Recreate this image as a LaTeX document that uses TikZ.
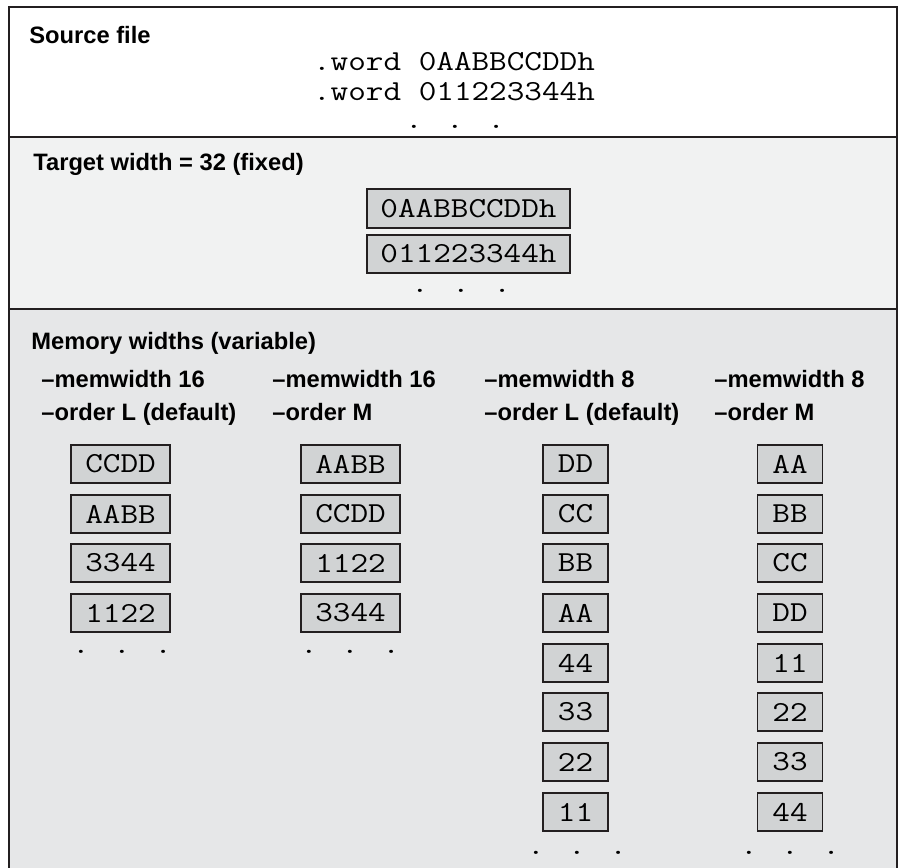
\documentclass[tikz,border=0pt]{standalone}
\usepackage{fontspec}
\setmainfont{Liberation Sans}
\newfontfamily\codefont{Latin Modern Mono}[FakeStretch=1.18]
\definecolor{ink}{HTML}{231F20}
\definecolor{paneltwo}{HTML}{F1F2F2}
\definecolor{panelthree}{HTML}{E6E7E8}
\definecolor{cellgray}{HTML}{D1D3D4}
\tikzset{
  paneltitle/.style={anchor=base west,inner sep=0,font=\bfseries\fontsize{13.5}{16}\selectfont},
  srcline/.style={anchor=base,inner sep=0,font=\codefont\fontsize{16.5}{19}\selectfont},
  ellip/.style={anchor=base,inner sep=0,font=\codefont\fontsize{16.5}{19}\selectfont},
  cell/.style={draw=ink,fill=cellgray,line width=1.1pt,inner sep=0,minimum height=0.77cm,font=\codefont\fontsize{16.5}{19}\selectfont},
  cellword/.style={cell,minimum width=4.06cm},
  cellhalf/.style={cell,minimum width=1.98cm},
  cellbyte/.style={cell,minimum width=1.3cm}
}
\begin{document}
\begin{tikzpicture}[x=0.02cm,y=-0.02cm]
    \useasboundingbox (0,0) rectangle (902,867);
    % \draw[thin,red!30] (0,0) grid[step=50] (902,867);
    \fill[paneltwo] (9,137) rectangle (897,309);
    \fill[panelthree] (9,309) rectangle (897,880);
    \draw[ink,line width=1.6pt] (9,880) -- (9,7) -- (897,7) -- (897,880);
    \draw[ink,line width=1.6pt] (9,137) -- (897,137) (9,309) -- (897,309);
    % source file
    \node[paneltitle] (srctitle) at (29,43) {Source file};
    \node[srcline] (src1) at (454,70) {.word 0AABBCCDDh};
    \node[srcline] (src2) at (454,100) {.word 011223344h};
    \node[ellip] (srcdots) at (455,128.5) {. . .};
    % target width
    \node[paneltitle] (twtitle) at (33,170) {Target width = 32 (fixed)};
    \node[cellword] (tw1) at (468.5,208.5) {0AABBCCDDh};
    \node[cellword] (tw2) at (468.5,254) {011223344h};
    \node[ellip] (twdots) at (461,292.5) {. . .};
    % memory widths
    \node[paneltitle] (mwtitle) at (31,349.5) {Memory widths (variable)};
    \node[paneltitle] (mwA) at (41,387.7) {–memwidth 16};
    \node[paneltitle] (orA) at (41,420) {–order L (default)};
    \node[paneltitle] (mwB) at (272,387.7) {–memwidth 16};
    \node[paneltitle] (orB) at (272,420) {–order M};
    \node[paneltitle] (mwC) at (484,387.7) {–memwidth 8};
    \node[paneltitle] (orC) at (484,420) {–order L (default)};
    \node[paneltitle] (mwD) at (714,387.7) {–memwidth 8};
    \node[paneltitle] (orD) at (714,420) {–order M};
    % 16 bit, order L
    \node[cellhalf] (a1) at (120.5,464) {CCDD};
    \node[cellhalf] (a2) at (120.5,514) {AABB};
    \node[cellhalf] (a3) at (120.5,563) {3344};
    \node[cellhalf] (a4) at (120.5,613) {1122};
    \node[ellip] (adots) at (122,653.5) {. . .};
    % 16 bit, order M
    \node[cellhalf] (b1) at (350.5,464) {AABB};
    \node[cellhalf] (b2) at (350.5,514) {CCDD};
    \node[cellhalf] (b3) at (350.5,563) {1122};
    \node[cellhalf] (b4) at (350.5,613) {3344};
    \node[ellip] (bdots) at (350,653.5) {. . .};
    % 8 bit, order L
    \node[cellbyte] (c1) at (575.5,464) {DD};
    \node[cellbyte] (c2) at (575.5,514) {CC};
    \node[cellbyte] (c3) at (575.5,563) {BB};
    \node[cellbyte] (c4) at (575.5,613) {AA};
    \node[cellbyte] (c5) at (575.5,663) {44};
    \node[cellbyte] (c6) at (575.5,712) {33};
    \node[cellbyte] (c7) at (575.5,762) {22};
    \node[cellbyte] (c8) at (575.5,812) {11};
    \node[ellip] (cdots) at (577,854.5) {. . .};
    % 8 bit, order M
    \node[cellbyte] (d1) at (790,464) {AA};
    \node[cellbyte] (d2) at (790,514) {BB};
    \node[cellbyte] (d3) at (790,563) {CC};
    \node[cellbyte] (d4) at (790,613) {DD};
    \node[cellbyte] (d5) at (790,663) {11};
    \node[cellbyte] (d6) at (790,712) {22};
    \node[cellbyte] (d7) at (790,762) {33};
    \node[cellbyte] (d8) at (790,812) {44};
    \node[ellip] (ddots) at (790,854.5) {. . .};
\end{tikzpicture}
\end{document}
